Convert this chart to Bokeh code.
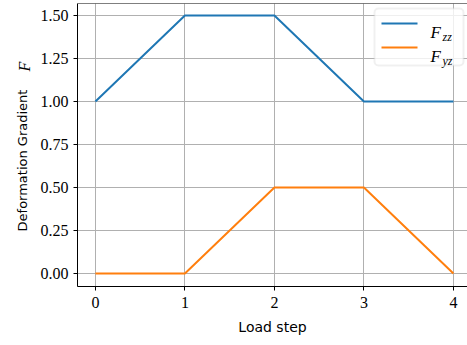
import math
from bokeh.plotting import figure
from bokeh.models import Range1d, Label, BoxAnnotation, Arrow, Span, NumeralTickFormatter
from bokeh.embed import file_html
from bokeh.resources import INLINE

# ---- data ----
steps = [0, 1, 2, 3, 4]
F_zz = [1.0, 1.5, 1.5, 1.0, 1.0]
F_yz = [0.0, 0.0, 0.5, 0.5, 0.0]
x_ticks = [0, 1, 2, 3, 4]
y_ticks = [0.0, 0.25, 0.5, 0.75, 1.0, 1.25, 1.5]
x_title = "Load step"
y_title = "Deformation Gradient"
series_names = [("F", "zz"), ("F", "yz")]
colors = ["#1f77b4", "#ff7f0e"]

p = figure(width=467, height=345, output_backend="svg", toolbar_location=None,
           x_range=Range1d(-0.2, 4.157), y_range=Range1d(-0.0756, 1.5698),
           min_border_left=77, min_border_right=0, min_border_top=3, min_border_bottom=59)

p.line(steps, F_zz, line_color=colors[0], line_width=2)
p.line(steps, F_yz, line_color=colors[1], line_width=2)

p.outline_line_color = None
p.add_layout(Span(location=p.y_range.end, dimension="width", line_color="black", line_width=1))

p.xaxis.ticker = x_ticks
p.yaxis.ticker = y_ticks
p.yaxis.formatter = NumeralTickFormatter(format="0.00")
for ax in (p.xaxis, p.yaxis):
    ax.major_tick_out = 4
    ax.major_tick_in = 0
    ax.minor_tick_out = 0
    ax.minor_tick_in = 0
    ax.axis_line_color = "black"
    ax.major_tick_line_color = "black"
    ax.major_label_text_font = "Liberation Serif"
    ax.major_label_text_font_size = "16px"
    ax.major_label_text_color = "black"
p.xaxis.major_label_standoff = 6
p.yaxis.major_label_standoff = 5
p.xaxis.axis_label = x_title
p.xaxis.axis_label_text_font = "DejaVu Sans"
p.xaxis.axis_label_text_font_size = "14px"
p.xaxis.axis_label_text_font_style = "normal"
p.xaxis.axis_label_standoff = 8
p.xaxis.axis_label_text_color = "black"

p.grid.grid_line_color = "#b0b0b0"
p.grid.grid_line_width = 1

# y title as real text labels (sans text + italic F), placed in the left panel
p.add_layout(Label(x=0, y=126, x_units="screen", y_units="screen", text=y_title,
                   angle=math.pi / 2, text_align="center", text_baseline="middle",
                   text_font="DejaVu Sans", text_font_size="13px", text_color="black"), "left")
p.add_layout(Label(x=19, y=220, x_units="screen", y_units="screen", text="F",
                   angle=math.pi / 2, text_align="center", text_baseline="middle",
                   text_font="Liberation Serif", text_font_style="italic",
                   text_font_size="16px", text_color="black"), "left")

# legend
p.add_layout(BoxAnnotation(left=297, right=386, bottom=221, top=278,
                           left_units="screen", right_units="screen",
                           bottom_units="screen", top_units="screen",
                           fill_color="white", fill_alpha=0.8,
                           line_color="#cccccc", line_width=2, border_radius=4))
rows = [(263, 254, 250), (239, 230, 226)]
for (main, sub), c, (ly, fb, sb) in zip(series_names, colors, rows):
    p.add_layout(Arrow(start=None, end=None, x_start=304, y_start=ly, x_end=340, y_end=ly,
                       start_units="screen", end_units="screen", line_color=c, line_width=2))
    p.add_layout(Label(x=353, y=fb, x_units="screen", y_units="screen", text=main,
                       text_font="Liberation Serif", text_font_style="italic",
                       text_font_size="17px", text_baseline="alphabetic", text_color="black"))
    p.add_layout(Label(x=365, y=sb, x_units="screen", y_units="screen", text=sub,
                       text_font="Liberation Serif", text_font_style="italic",
                       text_font_size="12px", text_baseline="alphabetic", text_color="black"))

open("out.html", "w").write(file_html(p, INLINE))
